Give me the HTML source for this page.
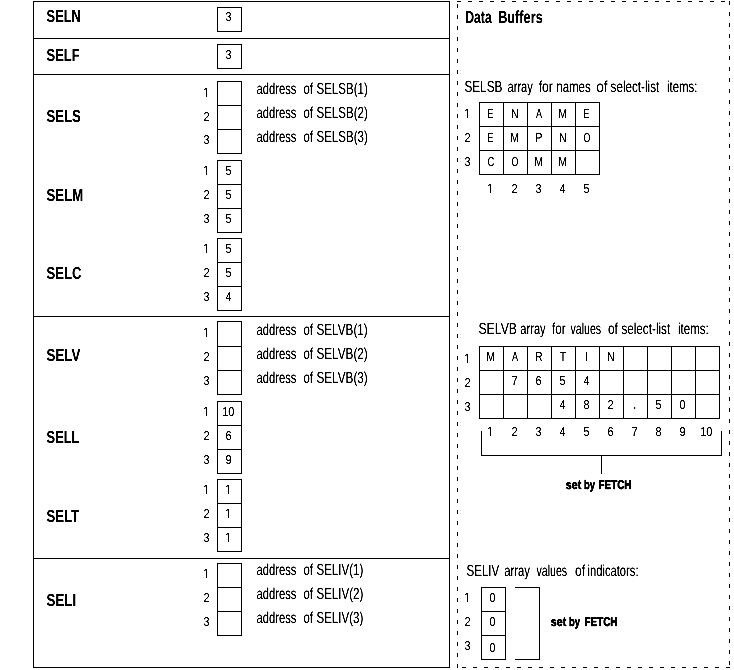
<!DOCTYPE html>
<html lang="en">
<head>
<meta charset="utf-8">
<title>Data Buffers</title>
<style>
html,body{margin:0;padding:0;background:#fff;}
body{width:734px;height:670px;overflow:hidden;}
svg{display:block;}
svg text{font-family:"Liberation Sans",sans-serif;font-size:16px;fill:#000;text-rendering:geometricPrecision;}
</style>
</head>
<body>
<svg width="734" height="670" viewBox="0 0 734 670">
<rect x="0" y="0" width="734" height="670" fill="#fff"/>
<g fill="#000" shape-rendering="crispEdges">
<rect x="33" y="1" width="417" height="1"/>
<rect x="33" y="667" width="417" height="1"/>
<rect x="33" y="1" width="1" height="667"/>
<rect x="449" y="1" width="1" height="667"/>
<rect x="33" y="38" width="417" height="1"/>
<rect x="33" y="74" width="417" height="1"/>
<rect x="33" y="316" width="417" height="1"/>
<rect x="33" y="558" width="417" height="1"/>
<rect x="217" y="7" width="25" height="1"/>
<rect x="217" y="31" width="25" height="1"/>
<rect x="217" y="7" width="1" height="25"/>
<rect x="241" y="7" width="1" height="25"/>
<rect x="217" y="44" width="25" height="1"/>
<rect x="217" y="68" width="25" height="1"/>
<rect x="217" y="44" width="1" height="25"/>
<rect x="241" y="44" width="1" height="25"/>
<rect x="217" y="81" width="25" height="1"/>
<rect x="217" y="153" width="25" height="1"/>
<rect x="217" y="81" width="1" height="73"/>
<rect x="241" y="81" width="1" height="73"/>
<rect x="217" y="105" width="25" height="1"/>
<rect x="217" y="129" width="25" height="1"/>
<rect x="217" y="160" width="25" height="1"/>
<rect x="217" y="232" width="25" height="1"/>
<rect x="217" y="160" width="1" height="73"/>
<rect x="241" y="160" width="1" height="73"/>
<rect x="217" y="184" width="25" height="1"/>
<rect x="217" y="208" width="25" height="1"/>
<rect x="217" y="238" width="25" height="1"/>
<rect x="217" y="310" width="25" height="1"/>
<rect x="217" y="238" width="1" height="73"/>
<rect x="241" y="238" width="1" height="73"/>
<rect x="217" y="262" width="25" height="1"/>
<rect x="217" y="286" width="25" height="1"/>
<rect x="217" y="321" width="25" height="1"/>
<rect x="217" y="394" width="25" height="1"/>
<rect x="217" y="321" width="1" height="74"/>
<rect x="241" y="321" width="1" height="74"/>
<rect x="217" y="346" width="25" height="1"/>
<rect x="217" y="370" width="25" height="1"/>
<rect x="217" y="401" width="25" height="1"/>
<rect x="217" y="473" width="25" height="1"/>
<rect x="217" y="401" width="1" height="73"/>
<rect x="241" y="401" width="1" height="73"/>
<rect x="217" y="425" width="25" height="1"/>
<rect x="217" y="449" width="25" height="1"/>
<rect x="217" y="479" width="25" height="1"/>
<rect x="217" y="551" width="25" height="1"/>
<rect x="217" y="479" width="1" height="73"/>
<rect x="241" y="479" width="1" height="73"/>
<rect x="217" y="503" width="25" height="1"/>
<rect x="217" y="527" width="25" height="1"/>
<rect x="217" y="563" width="25" height="1"/>
<rect x="217" y="635" width="25" height="1"/>
<rect x="217" y="563" width="1" height="73"/>
<rect x="241" y="563" width="1" height="73"/>
<rect x="217" y="587" width="25" height="1"/>
<rect x="217" y="611" width="25" height="1"/>
<rect x="457" y="1" width="4" height="1"/>
<rect x="468" y="1" width="4" height="1"/>
<rect x="479" y="1" width="4" height="1"/>
<rect x="490" y="1" width="4" height="1"/>
<rect x="501" y="1" width="4" height="1"/>
<rect x="512" y="1" width="4" height="1"/>
<rect x="523" y="1" width="4" height="1"/>
<rect x="534" y="1" width="4" height="1"/>
<rect x="545" y="1" width="4" height="1"/>
<rect x="556" y="1" width="4" height="1"/>
<rect x="567" y="1" width="4" height="1"/>
<rect x="578" y="1" width="4" height="1"/>
<rect x="589" y="1" width="4" height="1"/>
<rect x="600" y="1" width="4" height="1"/>
<rect x="611" y="1" width="4" height="1"/>
<rect x="622" y="1" width="4" height="1"/>
<rect x="633" y="1" width="4" height="1"/>
<rect x="644" y="1" width="4" height="1"/>
<rect x="655" y="1" width="4" height="1"/>
<rect x="666" y="1" width="4" height="1"/>
<rect x="677" y="1" width="4" height="1"/>
<rect x="688" y="1" width="4" height="1"/>
<rect x="699" y="1" width="4" height="1"/>
<rect x="710" y="1" width="4" height="1"/>
<rect x="721" y="1" width="4" height="1"/>
<rect x="729" y="1" width="1" height="4"/>
<rect x="729" y="12" width="1" height="4"/>
<rect x="729" y="23" width="1" height="4"/>
<rect x="729" y="34" width="1" height="4"/>
<rect x="729" y="45" width="1" height="4"/>
<rect x="729" y="56" width="1" height="4"/>
<rect x="729" y="67" width="1" height="4"/>
<rect x="729" y="78" width="1" height="4"/>
<rect x="729" y="89" width="1" height="4"/>
<rect x="729" y="100" width="1" height="4"/>
<rect x="729" y="111" width="1" height="4"/>
<rect x="729" y="122" width="1" height="4"/>
<rect x="729" y="133" width="1" height="4"/>
<rect x="729" y="144" width="1" height="4"/>
<rect x="729" y="155" width="1" height="4"/>
<rect x="729" y="166" width="1" height="4"/>
<rect x="729" y="177" width="1" height="4"/>
<rect x="729" y="188" width="1" height="4"/>
<rect x="729" y="199" width="1" height="4"/>
<rect x="729" y="210" width="1" height="4"/>
<rect x="729" y="221" width="1" height="4"/>
<rect x="729" y="232" width="1" height="4"/>
<rect x="729" y="243" width="1" height="4"/>
<rect x="729" y="254" width="1" height="4"/>
<rect x="729" y="265" width="1" height="4"/>
<rect x="729" y="276" width="1" height="4"/>
<rect x="729" y="287" width="1" height="4"/>
<rect x="729" y="298" width="1" height="4"/>
<rect x="729" y="309" width="1" height="4"/>
<rect x="729" y="320" width="1" height="4"/>
<rect x="729" y="331" width="1" height="4"/>
<rect x="729" y="342" width="1" height="4"/>
<rect x="729" y="353" width="1" height="4"/>
<rect x="729" y="364" width="1" height="4"/>
<rect x="729" y="375" width="1" height="4"/>
<rect x="729" y="386" width="1" height="4"/>
<rect x="729" y="397" width="1" height="4"/>
<rect x="729" y="408" width="1" height="4"/>
<rect x="729" y="419" width="1" height="4"/>
<rect x="729" y="430" width="1" height="4"/>
<rect x="729" y="441" width="1" height="4"/>
<rect x="729" y="452" width="1" height="4"/>
<rect x="729" y="463" width="1" height="4"/>
<rect x="729" y="474" width="1" height="4"/>
<rect x="729" y="485" width="1" height="4"/>
<rect x="729" y="496" width="1" height="4"/>
<rect x="729" y="507" width="1" height="4"/>
<rect x="729" y="518" width="1" height="4"/>
<rect x="729" y="529" width="1" height="4"/>
<rect x="729" y="540" width="1" height="4"/>
<rect x="729" y="551" width="1" height="4"/>
<rect x="729" y="562" width="1" height="4"/>
<rect x="729" y="573" width="1" height="4"/>
<rect x="729" y="584" width="1" height="4"/>
<rect x="729" y="595" width="1" height="4"/>
<rect x="729" y="606" width="1" height="4"/>
<rect x="729" y="617" width="1" height="4"/>
<rect x="729" y="628" width="1" height="4"/>
<rect x="729" y="639" width="1" height="4"/>
<rect x="729" y="650" width="1" height="4"/>
<rect x="729" y="661" width="1" height="4"/>
<rect x="726" y="667" width="4" height="1"/>
<rect x="715" y="667" width="4" height="1"/>
<rect x="704" y="667" width="4" height="1"/>
<rect x="693" y="667" width="4" height="1"/>
<rect x="682" y="667" width="4" height="1"/>
<rect x="671" y="667" width="4" height="1"/>
<rect x="660" y="667" width="4" height="1"/>
<rect x="649" y="667" width="4" height="1"/>
<rect x="638" y="667" width="4" height="1"/>
<rect x="627" y="667" width="4" height="1"/>
<rect x="616" y="667" width="4" height="1"/>
<rect x="605" y="667" width="4" height="1"/>
<rect x="594" y="667" width="4" height="1"/>
<rect x="583" y="667" width="4" height="1"/>
<rect x="572" y="667" width="4" height="1"/>
<rect x="561" y="667" width="4" height="1"/>
<rect x="550" y="667" width="4" height="1"/>
<rect x="539" y="667" width="4" height="1"/>
<rect x="528" y="667" width="4" height="1"/>
<rect x="517" y="667" width="4" height="1"/>
<rect x="506" y="667" width="4" height="1"/>
<rect x="495" y="667" width="4" height="1"/>
<rect x="484" y="667" width="4" height="1"/>
<rect x="473" y="667" width="4" height="1"/>
<rect x="462" y="667" width="4" height="1"/>
<rect x="457" y="664" width="1" height="4"/>
<rect x="457" y="653" width="1" height="4"/>
<rect x="457" y="642" width="1" height="4"/>
<rect x="457" y="631" width="1" height="4"/>
<rect x="457" y="620" width="1" height="4"/>
<rect x="457" y="609" width="1" height="4"/>
<rect x="457" y="598" width="1" height="4"/>
<rect x="457" y="587" width="1" height="4"/>
<rect x="457" y="576" width="1" height="4"/>
<rect x="457" y="565" width="1" height="4"/>
<rect x="457" y="554" width="1" height="4"/>
<rect x="457" y="543" width="1" height="4"/>
<rect x="457" y="532" width="1" height="4"/>
<rect x="457" y="521" width="1" height="4"/>
<rect x="457" y="510" width="1" height="4"/>
<rect x="457" y="499" width="1" height="4"/>
<rect x="457" y="488" width="1" height="4"/>
<rect x="457" y="477" width="1" height="4"/>
<rect x="457" y="466" width="1" height="4"/>
<rect x="457" y="455" width="1" height="4"/>
<rect x="457" y="444" width="1" height="4"/>
<rect x="457" y="433" width="1" height="4"/>
<rect x="457" y="422" width="1" height="4"/>
<rect x="457" y="411" width="1" height="4"/>
<rect x="457" y="400" width="1" height="4"/>
<rect x="457" y="389" width="1" height="4"/>
<rect x="457" y="378" width="1" height="4"/>
<rect x="457" y="367" width="1" height="4"/>
<rect x="457" y="356" width="1" height="4"/>
<rect x="457" y="345" width="1" height="4"/>
<rect x="457" y="334" width="1" height="4"/>
<rect x="457" y="323" width="1" height="4"/>
<rect x="457" y="312" width="1" height="4"/>
<rect x="457" y="301" width="1" height="4"/>
<rect x="457" y="290" width="1" height="4"/>
<rect x="457" y="279" width="1" height="4"/>
<rect x="457" y="268" width="1" height="4"/>
<rect x="457" y="257" width="1" height="4"/>
<rect x="457" y="246" width="1" height="4"/>
<rect x="457" y="235" width="1" height="4"/>
<rect x="457" y="224" width="1" height="4"/>
<rect x="457" y="213" width="1" height="4"/>
<rect x="457" y="202" width="1" height="4"/>
<rect x="457" y="191" width="1" height="4"/>
<rect x="457" y="180" width="1" height="4"/>
<rect x="457" y="169" width="1" height="4"/>
<rect x="457" y="158" width="1" height="4"/>
<rect x="457" y="147" width="1" height="4"/>
<rect x="457" y="136" width="1" height="4"/>
<rect x="457" y="125" width="1" height="4"/>
<rect x="457" y="114" width="1" height="4"/>
<rect x="457" y="103" width="1" height="4"/>
<rect x="457" y="92" width="1" height="4"/>
<rect x="457" y="81" width="1" height="4"/>
<rect x="457" y="70" width="1" height="4"/>
<rect x="457" y="59" width="1" height="4"/>
<rect x="457" y="48" width="1" height="4"/>
<rect x="457" y="37" width="1" height="4"/>
<rect x="457" y="26" width="1" height="4"/>
<rect x="457" y="15" width="1" height="4"/>
<rect x="457" y="4" width="1" height="4"/>
<rect x="479" y="102" width="121" height="1"/>
<rect x="479" y="174" width="121" height="1"/>
<rect x="479" y="102" width="1" height="73"/>
<rect x="599" y="102" width="1" height="73"/>
<rect x="479" y="126" width="121" height="1"/>
<rect x="479" y="150" width="121" height="1"/>
<rect x="503" y="102" width="1" height="73"/>
<rect x="527" y="102" width="1" height="73"/>
<rect x="551" y="102" width="1" height="73"/>
<rect x="575" y="102" width="1" height="73"/>
<rect x="479" y="346" width="241" height="1"/>
<rect x="479" y="418" width="241" height="1"/>
<rect x="479" y="346" width="1" height="73"/>
<rect x="719" y="346" width="1" height="73"/>
<rect x="479" y="370" width="241" height="1"/>
<rect x="479" y="394" width="241" height="1"/>
<rect x="503" y="346" width="1" height="73"/>
<rect x="527" y="346" width="1" height="73"/>
<rect x="551" y="346" width="1" height="73"/>
<rect x="575" y="346" width="1" height="73"/>
<rect x="599" y="346" width="1" height="73"/>
<rect x="623" y="346" width="1" height="73"/>
<rect x="647" y="346" width="1" height="73"/>
<rect x="671" y="346" width="1" height="73"/>
<rect x="695" y="346" width="1" height="73"/>
<rect x="481" y="431" width="1" height="25"/>
<rect x="721" y="431" width="1" height="25"/>
<rect x="481" y="455" width="241" height="1"/>
<rect x="601" y="455" width="1" height="19"/>
<rect x="481" y="587" width="25" height="1"/>
<rect x="481" y="659" width="25" height="1"/>
<rect x="481" y="587" width="1" height="73"/>
<rect x="505" y="587" width="1" height="73"/>
<rect x="481" y="611" width="25" height="1"/>
<rect x="481" y="635" width="25" height="1"/>
<rect x="515" y="587" width="25" height="1"/>
<rect x="515" y="659" width="25" height="1"/>
<rect x="539" y="587" width="1" height="73"/>
</g>
<defs><clipPath id="one"><rect x="0" y="-13" width="5.45" height="11.75"/><rect x="3.95" y="-1.3" width="1.5" height="1.5"/></clipPath><filter id="crisp" x="0" y="0" width="734" height="670" filterUnits="userSpaceOnUse" color-interpolation-filters="sRGB"><feComponentTransfer><feFuncA type="linear" slope="2.2" intercept="-0.4"/></feComponentTransfer></filter></defs>
<g filter="url(#crisp)">
<text transform="matrix(0.8025 0 0 1.0906 46.61 22.00)" font-weight="bold">SELN</text>
<text transform="matrix(0.8082 0 0 1.0906 46.61 61.00)" font-weight="bold">SELF</text>
<text transform="matrix(0.8186 0 0 1.0906 46.61 122.00)" font-weight="bold">SELS</text>
<text transform="matrix(0.8209 0 0 1.0906 46.61 201.00)" font-weight="bold">SELM</text>
<text transform="matrix(0.8142 0 0 1.0906 46.61 279.00)" font-weight="bold">SELC</text>
<text transform="matrix(0.8300 0 0 1.0906 46.60 361.00)" font-weight="bold">SELV</text>
<text transform="matrix(0.8016 0 0 1.0906 46.62 443.00)" font-weight="bold">SELL</text>
<text transform="matrix(0.8197 0 0 1.0906 46.61 522.00)" font-weight="bold">SELT</text>
<text transform="matrix(0.8294 0 0 1.0906 46.60 606.00)" font-weight="bold">SELI</text>
<text transform="matrix(0.7651 0 0 1.0906 465.17 23.00)" font-weight="bold">Data</text>
<text transform="matrix(0.7959 0 0 1.0906 498.14 23.00)" font-weight="bold">Buffers</text>
<text transform="matrix(0.6711 0 0 0.8065 225.60 21.00)">3</text>
<text transform="matrix(0.6711 0 0 0.8065 225.60 59.00)">3</text>
<text transform="matrix(0.7732 0 0 0.8182 202.82 97.00)" clip-path="url(#one)">1</text>
<text transform="matrix(0.7005 0 0 0.8065 203.44 121.00)">2</text>
<text transform="matrix(0.6711 0 0 0.8065 203.60 144.00)">3</text>
<text transform="matrix(0.7732 0 0 0.8182 202.82 175.00)" clip-path="url(#one)">1</text>
<text transform="matrix(0.6711 0 0 0.8182 225.57 175.00)">5</text>
<text transform="matrix(0.7005 0 0 0.8065 203.44 199.00)">2</text>
<text transform="matrix(0.6711 0 0 0.8182 225.57 199.00)">5</text>
<text transform="matrix(0.6711 0 0 0.8065 203.60 223.00)">3</text>
<text transform="matrix(0.6711 0 0 0.8182 225.57 223.00)">5</text>
<text transform="matrix(0.7732 0 0 0.8182 202.82 253.00)" clip-path="url(#one)">1</text>
<text transform="matrix(0.6711 0 0 0.8182 225.57 253.00)">5</text>
<text transform="matrix(0.7005 0 0 0.8065 203.44 277.00)">2</text>
<text transform="matrix(0.6711 0 0 0.8182 225.57 277.00)">5</text>
<text transform="matrix(0.6711 0 0 0.8065 203.60 301.00)">3</text>
<text transform="matrix(0.6312 0 0 0.8182 225.77 301.00)">4</text>
<text transform="matrix(0.7732 0 0 0.8182 202.82 337.00)" clip-path="url(#one)">1</text>
<text transform="matrix(0.7005 0 0 0.8065 203.44 361.00)">2</text>
<text transform="matrix(0.6711 0 0 0.8065 203.60 385.00)">3</text>
<text transform="matrix(0.7732 0 0 0.8182 202.82 416.00)" clip-path="url(#one)">1</text>
<text transform="matrix(0.6892 0 0 0.8065 222.17 416.00)">10</text>
<text transform="matrix(0.7005 0 0 0.8065 203.44 440.00)">2</text>
<text transform="matrix(0.6892 0 0 0.8065 225.45 440.00)">6</text>
<text transform="matrix(0.6711 0 0 0.8065 203.60 464.00)">3</text>
<text transform="matrix(0.6892 0 0 0.8065 225.48 464.00)">9</text>
<text transform="matrix(0.7732 0 0 0.8182 202.82 494.00)" clip-path="url(#one)">1</text>
<text transform="matrix(0.7732 0 0 0.8182 224.82 494.00)" clip-path="url(#one)">1</text>
<text transform="matrix(0.7005 0 0 0.8065 203.44 518.00)">2</text>
<text transform="matrix(0.7732 0 0 0.8182 224.82 518.00)" clip-path="url(#one)">1</text>
<text transform="matrix(0.6711 0 0 0.8065 203.60 542.00)">3</text>
<text transform="matrix(0.7732 0 0 0.8182 224.82 542.00)" clip-path="url(#one)">1</text>
<text transform="matrix(0.7732 0 0 0.8182 202.82 578.00)" clip-path="url(#one)">1</text>
<text transform="matrix(0.7005 0 0 0.8065 203.44 602.00)">2</text>
<text transform="matrix(0.6711 0 0 0.8065 203.60 626.00)">3</text>
<text transform="matrix(0.7004 0 0 1.0000 256.52 94.00)">address</text>
<text transform="matrix(0.7098 0 0 1.0000 303.52 94.00)">of</text>
<text transform="matrix(0.7205 0 0 1.0000 316.48 94.00)">SELSB(1)</text>
<text transform="matrix(0.7004 0 0 1.0000 256.52 118.00)">address</text>
<text transform="matrix(0.7098 0 0 1.0000 303.52 118.00)">of</text>
<text transform="matrix(0.7205 0 0 1.0000 316.48 118.00)">SELSB(2)</text>
<text transform="matrix(0.7004 0 0 1.0000 256.52 142.00)">address</text>
<text transform="matrix(0.7098 0 0 1.0000 303.52 142.00)">of</text>
<text transform="matrix(0.7205 0 0 1.0000 316.48 142.00)">SELSB(3)</text>
<text transform="matrix(0.7004 0 0 1.0000 256.52 335.00)">address</text>
<text transform="matrix(0.7098 0 0 1.0000 303.52 335.00)">of</text>
<text transform="matrix(0.7327 0 0 1.0000 316.47 335.00)">SELVB(1)</text>
<text transform="matrix(0.7004 0 0 1.0000 256.52 359.00)">address</text>
<text transform="matrix(0.7098 0 0 1.0000 303.52 359.00)">of</text>
<text transform="matrix(0.7327 0 0 1.0000 316.47 359.00)">SELVB(2)</text>
<text transform="matrix(0.7004 0 0 1.0000 256.52 383.00)">address</text>
<text transform="matrix(0.7098 0 0 1.0000 303.52 383.00)">of</text>
<text transform="matrix(0.7327 0 0 1.0000 316.47 383.00)">SELVB(3)</text>
<text transform="matrix(0.7004 0 0 1.0000 256.52 575.00)">address</text>
<text transform="matrix(0.7098 0 0 1.0000 303.52 575.00)">of</text>
<text transform="matrix(0.7199 0 0 1.0000 316.48 575.00)">SELIV(1)</text>
<text transform="matrix(0.7004 0 0 1.0000 256.52 599.00)">address</text>
<text transform="matrix(0.7098 0 0 1.0000 303.52 599.00)">of</text>
<text transform="matrix(0.7199 0 0 1.0000 316.48 599.00)">SELIV(2)</text>
<text transform="matrix(0.7004 0 0 1.0000 256.52 623.00)">address</text>
<text transform="matrix(0.7098 0 0 1.0000 303.52 623.00)">of</text>
<text transform="matrix(0.7199 0 0 1.0000 316.48 623.00)">SELIV(3)</text>
<text transform="matrix(0.7334 0 0 1.0000 464.47 92.00)">SELSB</text>
<text transform="matrix(0.6943 0 0 1.0000 507.53 92.00)">array</text>
<text transform="matrix(0.7582 0 0 1.0000 538.72 92.00)">for</text>
<text transform="matrix(0.7198 0 0 1.0000 556.22 92.00)">names</text>
<text transform="matrix(0.8596 0 0 1.0000 596.22 92.00)">of</text>
<text transform="matrix(0.7305 0 0 1.0000 610.58 92.00)">select-list</text>
<text transform="matrix(0.7122 0 0 1.0000 666.93 92.00)">items:</text>
<text transform="matrix(0.7658 0 0 1.0000 478.45 334.00)">SELVB</text>
<text transform="matrix(0.6943 0 0 1.0000 520.33 334.00)">array</text>
<text transform="matrix(0.7308 0 0 1.0000 552.12 334.00)">for</text>
<text transform="matrix(0.6645 0 0 1.0000 570.45 334.00)">values</text>
<text transform="matrix(0.7413 0 0 1.0000 607.90 334.00)">of</text>
<text transform="matrix(0.7320 0 0 1.0000 621.38 334.00)">select-list</text>
<text transform="matrix(0.7221 0 0 1.0000 678.02 334.00)">items:</text>
<text transform="matrix(0.7226 0 0 1.0000 466.48 576.00)">SELIV</text>
<text transform="matrix(0.7083 0 0 1.0000 504.22 576.00)">array</text>
<text transform="matrix(0.6645 0 0 1.0000 536.45 576.00)">values</text>
<text transform="matrix(0.7571 0 0 1.0000 574.89 576.00)">of</text>
<text transform="matrix(0.6989 0 0 1.0000 587.55 576.00)">indicators:</text>
<text transform="matrix(0.7732 0 0 0.8182 463.82 118.00)" clip-path="url(#one)">1</text>
<text transform="matrix(0.5876 0 0 0.8182 487.22 118.00)">E</text>
<text transform="matrix(0.6726 0 0 0.8182 511.11 118.00)">N</text>
<text transform="matrix(0.5660 0 0 0.8182 535.98 118.00)">A</text>
<text transform="matrix(0.6554 0 0 0.8182 558.13 118.00)">M</text>
<text transform="matrix(0.5876 0 0 0.8182 583.22 118.00)">E</text>
<text transform="matrix(0.7005 0 0 0.8065 464.44 142.00)">2</text>
<text transform="matrix(0.5876 0 0 0.8182 487.22 142.00)">E</text>
<text transform="matrix(0.6554 0 0 0.8182 510.13 142.00)">M</text>
<text transform="matrix(0.7042 0 0 0.8182 535.07 142.00)">P</text>
<text transform="matrix(0.6726 0 0 0.8182 559.11 142.00)">N</text>
<text transform="matrix(0.5495 0 0 0.8065 583.58 142.00)">O</text>
<text transform="matrix(0.6711 0 0 0.8065 464.60 166.00)">3</text>
<text transform="matrix(0.5929 0 0 0.8065 487.53 166.00)">C</text>
<text transform="matrix(0.5495 0 0 0.8065 511.58 166.00)">O</text>
<text transform="matrix(0.6554 0 0 0.8182 534.13 166.00)">M</text>
<text transform="matrix(0.6554 0 0 0.8182 558.13 166.00)">M</text>
<text transform="matrix(0.7732 0 0 0.8182 486.82 193.00)" clip-path="url(#one)">1</text>
<text transform="matrix(0.7005 0 0 0.8065 511.44 193.00)">2</text>
<text transform="matrix(0.6711 0 0 0.8065 535.60 193.00)">3</text>
<text transform="matrix(0.6312 0 0 0.8182 559.77 193.00)">4</text>
<text transform="matrix(0.6711 0 0 0.8182 583.57 193.00)">5</text>
<text transform="matrix(0.7732 0 0 0.8182 463.82 363.00)" clip-path="url(#one)">1</text>
<text transform="matrix(0.6554 0 0 0.8182 486.13 361.00)">M</text>
<text transform="matrix(0.5660 0 0 0.8182 511.98 361.00)">A</text>
<text transform="matrix(0.6329 0 0 0.8182 535.16 361.00)">R</text>
<text transform="matrix(0.6637 0 0 0.8182 559.76 361.00)">T</text>
<text transform="matrix(0.8108 0 0 0.8182 584.80 361.00)">I</text>
<text transform="matrix(0.6726 0 0 0.8182 607.11 361.00)">N</text>
<text transform="matrix(0.7005 0 0 0.8065 464.44 387.00)">2</text>
<text transform="matrix(0.7044 0 0 0.8182 511.41 385.00)">7</text>
<text transform="matrix(0.6892 0 0 0.8065 535.45 385.00)">6</text>
<text transform="matrix(0.6711 0 0 0.8182 559.57 385.00)">5</text>
<text transform="matrix(0.6312 0 0 0.8182 583.77 385.00)">4</text>
<text transform="matrix(0.6711 0 0 0.8065 464.60 411.00)">3</text>
<text transform="matrix(0.6312 0 0 0.8182 559.77 409.00)">4</text>
<text transform="matrix(0.6782 0 0 0.8065 583.54 409.00)">8</text>
<text transform="matrix(0.7005 0 0 0.8065 607.44 409.00)">2</text>
<text transform="matrix(0.7566 0 0 1.1628 632.88 409.00)">.</text>
<text transform="matrix(0.6711 0 0 0.8182 655.57 409.00)">5</text>
<text transform="matrix(0.6675 0 0 0.8065 679.57 409.00)">0</text>
<text transform="matrix(0.7732 0 0 0.8182 486.82 436.00)" clip-path="url(#one)">1</text>
<text transform="matrix(0.7005 0 0 0.8065 511.44 436.00)">2</text>
<text transform="matrix(0.6711 0 0 0.8065 535.60 436.00)">3</text>
<text transform="matrix(0.6312 0 0 0.8182 559.77 436.00)">4</text>
<text transform="matrix(0.6711 0 0 0.8182 583.57 436.00)">5</text>
<text transform="matrix(0.6892 0 0 0.8065 607.45 436.00)">6</text>
<text transform="matrix(0.7044 0 0 0.8182 631.41 436.00)">7</text>
<text transform="matrix(0.6782 0 0 0.8065 655.54 436.00)">8</text>
<text transform="matrix(0.6892 0 0 0.8065 679.48 436.00)">9</text>
<text transform="matrix(0.6892 0 0 0.8065 700.17 436.00)">10</text>
<text transform="matrix(0.6664 0 0 0.7871 565.78 488.82)" font-weight="bold" stroke="#000" stroke-width="0.45">set</text>
<text transform="matrix(0.5899 0 0 0.7871 583.92 488.82)" font-weight="bold" stroke="#000" stroke-width="0.45">by</text>
<text transform="matrix(0.6200 0 0 0.7871 598.47 488.82)" font-weight="bold" stroke="#000" stroke-width="0.45">FETCH</text>
<text transform="matrix(0.6664 0 0 0.7871 550.78 625.82)" font-weight="bold" stroke="#000" stroke-width="0.45">set</text>
<text transform="matrix(0.5899 0 0 0.7871 568.92 625.82)" font-weight="bold" stroke="#000" stroke-width="0.45">by</text>
<text transform="matrix(0.6200 0 0 0.7871 584.47 625.82)" font-weight="bold" stroke="#000" stroke-width="0.45">FETCH</text>
<text transform="matrix(0.7732 0 0 0.8182 463.82 602.00)" clip-path="url(#one)">1</text>
<text transform="matrix(0.6675 0 0 0.8065 489.57 602.00)">0</text>
<text transform="matrix(0.7005 0 0 0.8065 464.44 626.00)">2</text>
<text transform="matrix(0.6675 0 0 0.8065 489.57 626.00)">0</text>
<text transform="matrix(0.6711 0 0 0.8065 464.60 650.00)">3</text>
<text transform="matrix(0.6675 0 0 0.8065 489.57 652.00)">0</text>
</g>
</svg>
</body>
</html>
